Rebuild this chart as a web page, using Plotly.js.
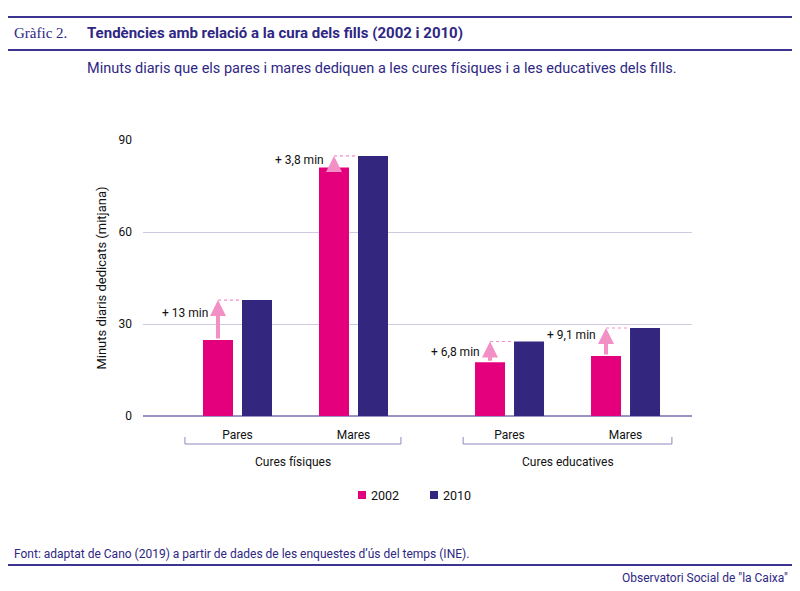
<!DOCTYPE html>
<html>
<head>
<meta charset="utf-8">
<script src="https://cdn.plot.ly/plotly-3.0.1.min.js"></script>
<style>html,body{margin:0;padding:0;background:#fff;}#chart{width:800px;height:591px;}</style>
</head>
<body>
<div id="chart"></div>
<script>
// ---- data ----
const categories = ['Pares', 'Mares', 'Pares', 'Mares'];
const groups = ['Cures físiques', 'Cures educatives'];
const years = ['2002', '2010'];
const values2002 = [24.8, 81.0, 17.5, 19.6];
const values2010 = [37.8, 84.8, 24.3, 28.7];
const diffLabels = ['+ 13 min', '+ 3,8 min', '+ 6,8 min', '+ 9,1 min'];
const yTicks = [0, 30, 60, 90];

// ---- layout constants ----
const PINK = '#e4007c', NAVY = '#32267e', ARROW = '#f28fc5';
const PURPLE = '#2e2783', LINE = '#3b3490';
const L = 143, R = 692, T = 140, B = 416, W = 800, H = 591;
const px = x => (x - L) / (R - L);
const py = y => (B - y) / (B - T);
const pos = [0, 1, 2.345, 3.345];
const unit = 116;
const bw = 30 / unit, off1 = -34.5 / unit, off2 = 4.5 / unit;
const c2002 = pos.map(p => p + off1 + bw / 2);
const colors = [PINK, NAVY];

const traces = [
  {type: 'bar', name: years[0], x: pos, y: values2002, width: bw, offset: off1,
   marker: {color: colors[0]}, hoverinfo: 'y', showlegend: false},
  {type: 'bar', name: years[1], x: pos, y: values2010, width: bw, offset: off2,
   marker: {color: colors[1]}, hoverinfo: 'y', showlegend: false}
];

const shapes = [];
const annotations = [];
const labelShift = [7, 2, 0, 7];
for (let i = 0; i < pos.length; i++) {
  shapes.push({type: 'line', xref: 'x', yref: 'y', x0: c2002[i], x1: pos[i] + off2,
    y0: values2010[i], y1: values2010[i], line: {color: ARROW, width: 1.2, dash: 'dot'}});
  annotations.push({xref: 'x', yref: 'y', axref: 'x', ayref: 'y',
    x: c2002[i], y: values2010[i], ax: c2002[i], ay: values2002[i],
    text: '', showarrow: true, arrowhead: 2, arrowsize: 0.8, arrowwidth: 4,
    arrowcolor: ARROW, standoff: 0, startstandoff: 0});
  annotations.push({xref: 'x', yref: 'y', x: c2002[i], y: (values2002[i] + values2010[i]) / 2,
    xanchor: 'right', yanchor: 'middle', xshift: -8, yshift: labelShift[i],
    text: diffLabels[i], showarrow: false, font: {family: 'Roboto', size: 12, color: '#111'}});
}
// group brackets
const brackets = [[pos[0] - 0.453, pos[1] + 0.409], [pos[2] - 0.40, pos[3] + 0.40]];
const bracketY = py(444), bracketTop = py(437);
brackets.forEach((b, gi) => {
  shapes.push({type: 'path', xref: 'x', yref: 'paper',
    path: `M ${b[0]} ${bracketTop} L ${b[0]} ${bracketY} L ${b[1]} ${bracketY} L ${b[1]} ${bracketTop}`,
    line: {color: '#8f88bd', width: 1}});
  annotations.push({xref: 'x', yref: 'paper', x: (b[0] + b[1]) / 2, y: py(462),
    yanchor: 'middle', text: groups[gi], showarrow: false,
    font: {family: 'Roboto', size: 12, color: '#111'}});
});
// manual legend
const legX = [358, 430];
years.forEach((yr, i) => {
  shapes.push({type: 'rect', xref: 'paper', yref: 'paper',
    x0: px(legX[i]), x1: px(legX[i] + 8), y0: py(499), y1: py(491),
    fillcolor: colors[i], line: {width: 0}});
  annotations.push({xref: 'paper', yref: 'paper', x: px(legX[i] + 11), y: py(495),
    xanchor: 'left', yanchor: 'middle', text: yr, showarrow: false,
    font: {family: 'Roboto', size: 12.5, color: '#111'}});
});
// header / footer rules
[17, 50, 565].forEach(yy => shapes.push({type: 'line', xref: 'paper', yref: 'paper',
  x0: px(8), x1: px(792), y0: py(yy), y1: py(yy), line: {color: LINE, width: 2}}));

annotations.push(
  {xref: 'paper', yref: 'paper', x: px(12), y: py(33), xanchor: 'left', yanchor: 'middle',
   text: 'Gràfic 2.', showarrow: false, font: {family: 'Liberation Serif', size: 15, color: PURPLE}},
  {xref: 'paper', yref: 'paper', x: px(85), y: py(33), xanchor: 'left', yanchor: 'middle',
   text: 'Tendències amb relació a la cura dels fills (2002 i 2010)', showarrow: false,
   font: {family: 'Roboto', size: 15, weight: 'bold', color: PURPLE}},
  {xref: 'paper', yref: 'paper', x: px(85), y: py(69), xanchor: 'left', yanchor: 'middle',
   text: 'Minuts diaris que els pares i mares dediquen a les cures físiques i a les educatives dels fills.',
   showarrow: false, font: {family: 'Roboto', size: 14.5, color: PURPLE}},
  {xref: 'paper', yref: 'paper', x: px(12), y: py(554), xanchor: 'left', yanchor: 'middle',
   text: 'Font: adaptat de Cano (2019) a partir de dades de les enquestes d’ús del temps (INE).',
   showarrow: false, font: {family: 'Roboto', size: 12, color: PURPLE}},
  {xref: 'paper', yref: 'paper', x: px(790), y: py(578), xanchor: 'right', yanchor: 'middle',
   text: 'Observatori Social de "la Caixa"', showarrow: false,
   font: {family: 'Roboto', size: 12, color: PURPLE}}
);

const layout = {
  width: W, height: H,
  margin: {l: L, r: W - R, t: T, b: H - B, pad: 0},
  paper_bgcolor: '#fff', plot_bgcolor: '#fff',
  font: {family: 'Roboto', size: 12, color: '#111'},
  barmode: 'overlay',
  showlegend: false,
  xaxis: {range: [(L - 237.5) / unit, (R - 237.5) / unit], tickvals: pos, ticktext: categories,
    showgrid: false, zeroline: false, showline: false, ticks: '', ticklabelstandoff: 10,
    tickfont: {family: 'Roboto', size: 12, color: '#111'}, fixedrange: true},
  yaxis: {range: [0, 90], tickvals: yTicks, showgrid: true, gridcolor: '#cfcae2', gridwidth: 1,
    zeroline: true, zerolinecolor: '#9a93c4', zerolinewidth: 2, showline: false, ticks: '',
    ticklabelstandoff: 10, tickfont: {family: 'Roboto', size: 12, color: '#111'},
    title: {text: 'Minuts diaris dedicats (mitjana)', standoff: 8,
      font: {family: 'Roboto', size: 13, color: '#111'}}, fixedrange: true},
  shapes: shapes,
  annotations: annotations
};

Plotly.newPlot('chart', traces, layout, {displayModeBar: false, staticPlot: true});
</script>
</body>
</html>
